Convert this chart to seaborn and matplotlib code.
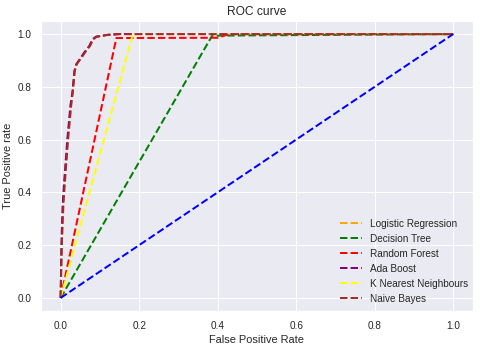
import matplotlib
matplotlib.use("Agg")
import matplotlib.pyplot as plt
import seaborn as sns

# ROC points
lr_fpr = [0, 0.003, 0.006, 0.01, 0.018, 0.026, 0.031, 0.036, 0.041, 0.053, 0.061, 0.074, 0.082, 0.091, 0.12, 0.15, 1.0]
lr_tpr = [0, 0.21, 0.36, 0.44, 0.6, 0.73, 0.78, 0.86, 0.886, 0.912, 0.93, 0.955, 0.98, 0.99, 0.997, 1.0, 1.0]
dt_fpr = [0, 0.386, 1.0]
dt_tpr = [0, 0.994, 1.0]
rf_fpr = [0, 0.142, 0.40, 0.43, 1.0]
rf_tpr = [0, 0.985, 0.986, 1.0, 1.0]
ada_fpr = [0, 0.002, 0.005, 0.009, 0.017, 0.025, 0.030, 0.035, 0.040, 0.052, 0.060, 0.073, 0.081, 0.090, 0.12, 0.15, 1.0]
ada_tpr = [0, 0.2, 0.35, 0.44, 0.6, 0.73, 0.78, 0.86, 0.886, 0.912, 0.93, 0.955, 0.98, 0.99, 0.997, 1.0, 1.0]
knn_fpr = [0, 0.184, 1.0]
knn_tpr = [0, 1.0, 1.0]
nb_fpr = [0, 0.003, 0.007, 0.011, 0.019, 0.027, 0.031, 0.036, 0.041, 0.054, 0.062, 0.075, 0.083, 0.092, 0.12, 0.15, 1.0]
nb_tpr = [0, 0.2, 0.35, 0.44, 0.6, 0.73, 0.78, 0.86, 0.886, 0.912, 0.93, 0.955, 0.98, 0.99, 0.997, 1.0, 1.0]
base = [0, 1]

sns.set_theme(style="darkgrid")
plt.rcParams['font.family'] = ['Liberation Sans', 'DejaVu Sans']

fig = plt.figure(figsize=(480 / 72, 348 / 72), dpi=72)
ax = fig.add_axes([0.0854, 0.106, 0.8996, 0.834])

curves = [
    (lr_fpr, lr_tpr, "orange", "Logistic Regression"),
    (dt_fpr, dt_tpr, "green", "Decision Tree"),
    (rf_fpr, rf_tpr, "red", "Random Forest"),
    (ada_fpr, ada_tpr, "purple", "Ada Boost"),
    (knn_fpr, knn_tpr, "yellow", "K Nearest Neighbours"),
    (nb_fpr, nb_tpr, "brown", "Naive Bayes"),
]
for fpr, tpr, c, lab in curves:
    sns.lineplot(x=fpr, y=tpr, color=c, linestyle="--", label=lab,
                 ax=ax, sort=False, estimator=None, linewidth=2)
sns.lineplot(x=base, y=base, color="blue", linestyle="--", ax=ax,
             sort=False, estimator=None, linewidth=2)

ax.set_title("ROC curve", fontsize=12, color=".15")
ax.set_xlabel("False Positive Rate", fontsize=11, color=".15")
ax.set_ylabel("True Positive rate", fontsize=11, color=".15")
ax.tick_params(labelsize=10, colors=".15")
ax.legend(loc="lower right", frameon=False, fontsize=10,
          bbox_to_anchor=(1.01, -0.006), handlelength=2.2)

fig.savefig("out.png", dpi=72)
